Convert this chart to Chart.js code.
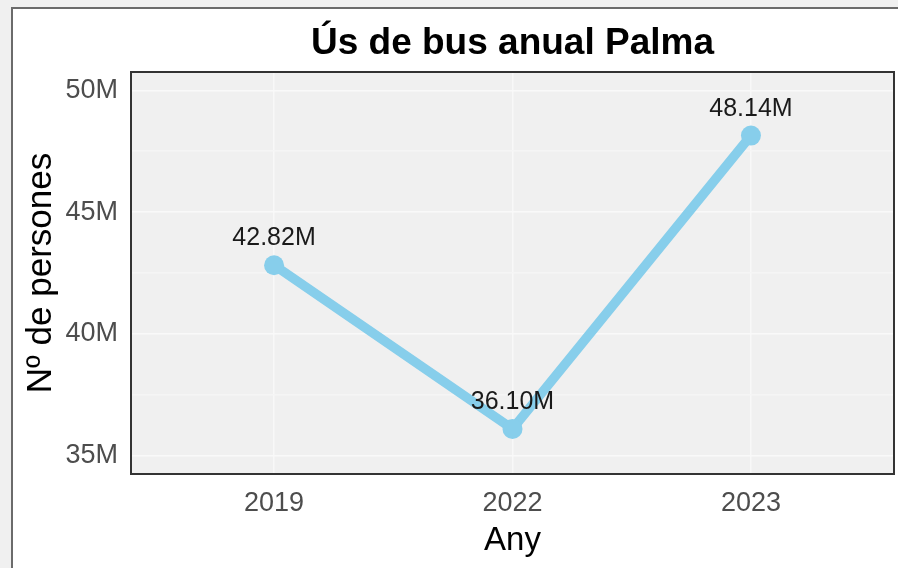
<!DOCTYPE html>
<html>
<head>
<meta charset="utf-8">
<script src="https://cdn.jsdelivr.net/npm/chart.js@4/dist/chart.umd.min.js"></script>
<style>
  html, body { margin: 0; padding: 0; background: #f0f0f0; overflow: hidden; }
  #frame { position: absolute; left: 11px; top: 7px; width: 1000px; height: 700px;
           border: 2px solid #6b6b6b; background: #fff; }
  #wrap { position: absolute; left: 0; top: 0; width: 898px; height: 568px; }
</style>
</head>
<body>
<div id="frame"></div>
<div id="wrap"><canvas id="chart" width="898" height="568"></canvas></div>
<script>
// values (millions of passengers)
var years = ['2019', '2022', '2023'];
var riders = [42.82, 36.10, 48.14];
var yMajor = [35, 40, 45, 50];
var yMinor = [37.5, 42.5, 47.5];

var FONT = '"Liberation Sans", Arial, sans-serif';

var panelBg = {
    id: 'panelBg',
    beforeDraw: function (chart) {
        var a = chart.chartArea, ctx = chart.ctx;
        ctx.save();
        ctx.fillStyle = '#f0f0f0';
        ctx.fillRect(a.left, a.top, a.right - a.left, a.bottom - a.top);
        ctx.restore();
    },
    afterDraw: function (chart) {
        var a = chart.chartArea, ctx = chart.ctx;
        ctx.save();
        ctx.strokeStyle = '#333';
        ctx.lineWidth = 2;
        ctx.strokeRect(a.left, a.top, a.right - a.left, a.bottom - a.top);
        ctx.restore();
    }
};

var pointLabels = {
    id: 'pointLabels',
    afterDatasetsDraw: function (chart) {
        var ctx = chart.ctx;
        var meta = chart.getDatasetMeta(0);
        ctx.save();
        ctx.fillStyle = '#1a1a1a';
        ctx.font = '25px ' + FONT;
        ctx.textAlign = 'center';
        ctx.textBaseline = 'alphabetic';
        meta.data.forEach(function (el, i) {
            ctx.fillText(riders[i].toFixed(2) + 'M', el.x, el.y - 20);
        });
        ctx.restore();
    }
};

var allY = yMajor.concat(yMinor).sort(function (a, b) { return a - b; });

new Chart(document.getElementById('chart').getContext('2d'), {
    type: 'line',
    data: {
        datasets: [{
            data: riders.map(function (v, i) { return { x: i, y: v }; }),
            borderColor: '#87CEEB',
            backgroundColor: '#87CEEB',
            borderWidth: 9.5,
            pointRadius: 10,
            pointBorderWidth: 0,
            tension: 0
        }]
    },
    options: {
        responsive: false,
        animation: false,
        layout: { autoPadding: false, padding: { left: 0, right: 4, top: 0, bottom: 0 } },
        plugins: {
            legend: { display: false },
            tooltip: { enabled: false },
            title: {
                display: true,
                text: 'Ús de bus anual Palma',
                fullSize: false,
                color: '#000',
                font: { family: FONT, size: 37, weight: 'bold' },
                padding: { top: 22, bottom: 5.6 }
            }
        },
        scales: {
            x: {
                type: 'linear',
                min: -0.6,
                max: years.length - 0.4,
                afterBuildTicks: function (s) {
                    s.ticks = years.map(function (y, i) { return { value: i }; });
                },
                afterFit: function (s) {
                    s.height = 94;
                    s.paddingLeft = 0;
                    s.paddingRight = 0;
                },
                ticks: {
                    color: '#4d4d4d',
                    font: { family: FONT, size: 27 },
                    padding: 9,
                    maxRotation: 0,
                    callback: function (v) { return years[v]; }
                },
                grid: { color: '#f8f8f8', lineWidth: 1.5, tickLength: 4, tickColor: 'transparent' },
                border: { display: false },
                title: {
                    display: true,
                    text: 'Any',
                    color: '#000',
                    font: { family: FONT, size: 33 },
                    padding: 7
                }
            },
            y: {
                min: 34.25,
                max: 50.75,
                afterBuildTicks: function (s) {
                    s.ticks = allY.map(function (v) { return { value: v }; });
                },
                afterFit: function (s) { s.width = 131; },
                ticks: {
                    color: '#4d4d4d',
                    font: { family: FONT, size: 27 },
                    padding: 8,
                    callback: function (v) { return yMajor.indexOf(v) >= 0 ? v + 'M' : ''; }
                },
                grid: {
                    color: function (c) { return yMajor.indexOf(c.tick.value) >= 0 ? '#f9f9f9' : '#f5f5f5'; },
                    lineWidth: 1.5,
                    tickLength: 5,
                    tickColor: 'transparent'
                },
                border: { display: false },
                title: {
                    display: true,
                    text: 'Nº de persones',
                    color: '#000',
                    font: { family: FONT, size: 35 },
                    padding: 20
                }
            }
        }
    },
    plugins: [panelBg, pointLabels]
});
</script>
</body>
</html>
